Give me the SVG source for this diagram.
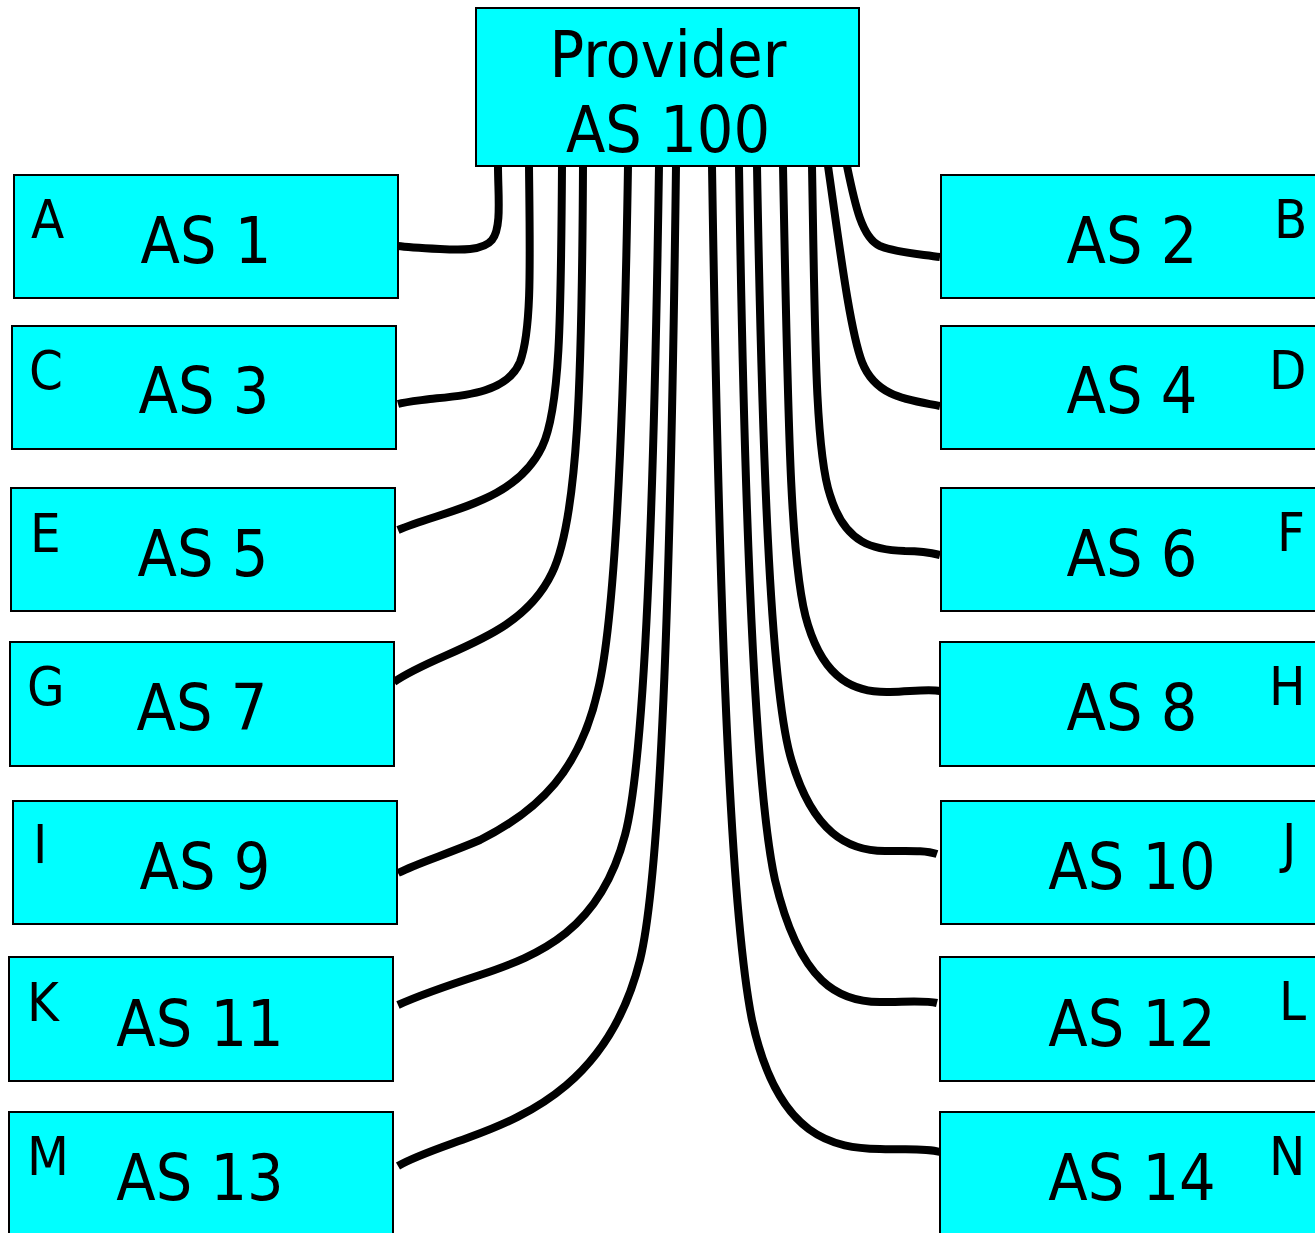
<svg xmlns="http://www.w3.org/2000/svg" width="1315" height="1233" viewBox="0 0 1315 1233">
<style>
.box{fill:#00ffff;stroke:#000;stroke-width:2}
.t{font-family:"DejaVu Sans Condensed","DejaVu Sans",sans-serif;font-size:64px;fill:#000;text-anchor:middle}
.l{font-family:"DejaVu Sans Condensed","DejaVu Sans",sans-serif;font-size:54px;fill:#000}
.c{fill:none;stroke:#000;stroke-width:8}
</style>
<rect width="1315" height="1233" fill="#fff"/>
<g id="connectors">
<path class="c" d="M498,166 C498,195 502,228 492,240 C483,251 460,250 440,249 C420,248 405,247 398,246"/>
<path class="c" d="M529,166 C530,260 532,330 520,362 C507,394 460,396 430,399 C415,401 405,402 398,404"/>
<path class="c" d="M562,166 C561,320 560,410 542,447 C515,503 445,510 398,530"/>
<path class="c" d="M583,166 C582,380 578,520 552,573 C520,640 440,650 394,682"/>
<path class="c" d="M628,166 C624,420 615,620 598,690 C580,770 540,810 480,840 C445,855 420,862 398,873"/>
<path class="c" d="M659,166 C654,500 645,760 625,835 C600,930 540,955 480,975 C440,988 420,995 398,1005"/>
<path class="c" d="M676,166 C671,560 662,870 640,960 C610,1080 530,1115 470,1137 C440,1148 415,1156 398,1166"/>
<path class="c" d="M712,166 C718,550 728,900 752,1020 C778,1140 835,1148 880,1149 C910,1150 925,1148 940,1152"/>
<path class="c" d="M739,166 C744,500 755,790 775,880 C800,985 840,1002 880,1002 C905,1002 925,1000 937,1003"/>
<path class="c" d="M757,166 C762,450 770,680 790,755 C812,835 850,851 885,851 C910,851 925,850 937,854"/>
<path class="c" d="M783,166 C788,420 790,570 808,625 C825,680 855,693 890,692 C915,691 930,689 940,691"/>
<path class="c" d="M812,166 C815,330 815,450 830,495 C845,545 875,550 905,551 C922,551 932,553 940,555"/>
<path class="c" d="M828,166 C840,250 850,330 862,362 C876,398 910,400 940,406"/>
<path class="c" d="M847,166 C855,205 862,238 880,246 C897,253 920,254 940,257"/>
</g>
<g id="provider"><rect class="box" x="476" y="8" width="383" height="158"/><text class="t" x="668" y="77">Provider</text><text class="t" x="668" y="152">AS 100</text></g>
<g id="as1"><rect class="box" x="14" y="175" width="384" height="123"/><text class="t" x="206" y="263">AS 1</text><text class="l" x="31" y="238">A</text></g>
<g id="as3"><rect class="box" x="12" y="326" width="384" height="123"/><text class="t" x="204" y="413">AS 3</text><text class="l" x="29" y="389">C</text></g>
<g id="as5"><rect class="box" x="11" y="488" width="384" height="123"/><text class="t" x="203" y="576">AS 5</text><text class="l" x="30" y="552">E</text></g>
<g id="as7"><rect class="box" x="10" y="642" width="384" height="124"/><text class="t" x="202" y="730">AS 7</text><text class="l" x="27" y="705">G</text></g>
<g id="as9"><rect class="box" x="13" y="801" width="384" height="123"/><text class="t" x="205" y="889">AS 9</text><text class="l" x="33" y="863">I</text></g>
<g id="as11"><rect class="box" x="9" y="957" width="384" height="124"/><text class="t" x="200" y="1046">AS 11</text><text class="l" x="27" y="1021">K</text></g>
<g id="as13"><rect class="box" x="9" y="1112" width="384" height="130"/><text class="t" x="200" y="1200">AS 13</text><text class="l" x="27" y="1175">M</text></g>
<g id="as2"><rect class="box" x="941" y="175" width="380" height="123"/><text class="t" x="1132" y="263">AS 2</text><text class="l" x="1274" y="238">B</text></g>
<g id="as4"><rect class="box" x="941" y="326" width="380" height="123"/><text class="t" x="1132" y="413">AS 4</text><text class="l" x="1269" y="389">D</text></g>
<g id="as6"><rect class="box" x="941" y="488" width="380" height="123"/><text class="t" x="1132" y="576">AS 6</text><text class="l" x="1277" y="551">F</text></g>
<g id="as8"><rect class="box" x="940" y="642" width="380" height="124"/><text class="t" x="1132" y="730">AS 8</text><text class="l" x="1269" y="705">H</text></g>
<g id="as10"><rect class="box" x="941" y="801" width="380" height="123"/><text class="t" x="1132" y="889">AS 10</text><text class="l" x="1282" y="862">J</text></g>
<g id="as12"><rect class="box" x="940" y="957" width="380" height="124"/><text class="t" x="1132" y="1046">AS 12</text><text class="l" x="1279" y="1020">L</text></g>
<g id="as14"><rect class="box" x="940" y="1112" width="380" height="130"/><text class="t" x="1132" y="1200">AS 14</text><text class="l" x="1269" y="1175">N</text></g>
</svg>
